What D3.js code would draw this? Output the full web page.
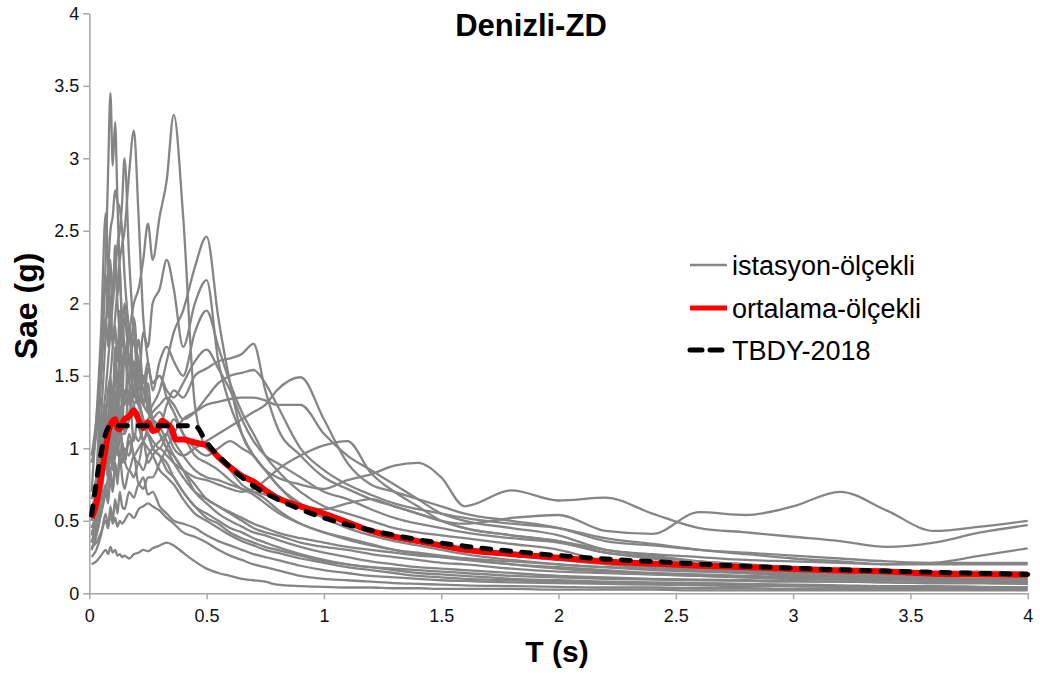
<!DOCTYPE html>
<html><head><meta charset="utf-8">
<script src="https://cdn.jsdelivr.net/npm/d3@7"></script>
<style>
html,body{margin:0;padding:0;background:#fff;}
svg text{font-family:"Liberation Sans",Arial,sans-serif;}
</style></head>
<body><svg id="chart" width="1040" height="675"></svg>
<script>
const xTicks = [0, 0.5, 1, 1.5, 2, 2.5, 3, 3.5, 4];
const yTicks = [0, 0.5, 1, 1.5, 2, 2.5, 3, 3.5, 4];
const seriesNames = ["istasyon-ölçekli", "ortalama-ölçekli", "TBDY-2018"];
const title = "Denizli-ZD";
const xTitle = "T (s)";
const yTitle = "Sae (g)";

// period grid of the scaled station records
const T = [0.01,0.03,0.05,0.07,0.08,0.09,0.10,0.11,0.12,0.13,
           0.14,0.15,0.17,0.19,0.21,0.23,0.25,0.27,0.30,0.33,
           0.36,0.40,0.45,0.50,0.55,0.60,0.65,0.70,0.75,0.80,
           0.90,1.0,1.1,1.2,1.3,1.4,1.5,1.6,1.8,2.0,
           2.2,2.4,2.6,2.8,3.0,3.2,3.4,3.6,3.8,4.0];

const rec01 = [0.55,0.8,1.5,2.3,2.9,3.45,2.95,3.25,2.7,2.2, 1.9,1.7,1.45,1.3,1.15,1.05,1.0,0.95,0.85,0.8, 0.75,0.65,0.55,0.5,0.45,0.4,0.36,0.33,0.3,0.28, 0.24,0.21,0.18,0.16,0.14,0.12,0.11,0.1,0.09,0.08, 0.07,0.065,0.06,0.055,0.05,0.045,0.045,0.04,0.04,0.035];
const rec02 = [0.6,0.7,1.0,1.2,1.4,1.5,1.7,1.9,2.1,2.3, 2.4,2.5,2.9,3.19,2.6,1.9,1.6,1.45,1.5,1.35, 1.25,1.1,0.95,0.9,0.85,0.78,0.72,0.68,0.62,0.56, 0.48,0.42,0.37,0.33,0.3,0.28,0.26,0.24,0.2,0.17, 0.15,0.13,0.12,0.11,0.1,0.095,0.09,0.085,0.08,0.075];
const rec03 = [0.45,0.55,0.75,0.95,1.05,1.1,1.2,1.3,1.35,1.45, 1.55,1.6,1.8,2.0,2.1,2.3,2.55,2.3,2.6,2.85, 3.3,2.6,1.3,1.0,0.95,0.85,0.75,0.7,0.65,0.58, 0.48,0.42,0.38,0.34,0.3,0.27,0.25,0.23,0.2,0.18, 0.16,0.14,0.13,0.12,0.11,0.1,0.095,0.09,0.085,0.08];
const rec04 = [0.4,0.45,0.55,0.7,0.8,0.85,0.9,0.95,1.0,1.05, 1.1,1.1,1.2,1.3,1.35,1.3,1.25,1.3,1.4,1.6, 1.8,1.95,2.25,2.46,1.9,1.45,1.1,0.95,0.85,0.75, 0.6,0.52,0.45,0.4,0.36,0.33,0.3,0.27,0.23,0.2, 0.18,0.16,0.15,0.14,0.13,0.12,0.11,0.1,0.1,0.09];
const rec05 = [0.5,0.7,1.2,1.8,2.2,2.5,2.6,2.78,2.7,2.65, 2.5,2.2,1.8,1.5,1.3,1.2,1.1,1.0,0.95,0.9, 0.8,0.7,0.6,0.55,0.5,0.45,0.42,0.38,0.35,0.32, 0.27,0.23,0.2,0.18,0.16,0.14,0.13,0.12,0.1,0.09, 0.08,0.075,0.07,0.065,0.06,0.055,0.05,0.05,0.045,0.04];
const rec06 = [0.65,0.8,1.1,1.4,1.6,1.8,2.0,2.2,2.4,2.5, 2.7,3.0,2.3,1.8,1.6,1.4,1.3,1.2,1.1,1.0, 0.95,0.85,0.7,0.62,0.55,0.5,0.46,0.42,0.4,0.37, 0.32,0.28,0.25,0.22,0.2,0.18,0.17,0.16,0.14,0.12, 0.11,0.1,0.095,0.09,0.085,0.08,0.075,0.07,0.07,0.065];
const rec07 = [0.7,1.2,1.8,2.62,2.3,2.0,2.1,2.3,2.0,1.8, 1.7,1.9,1.6,1.4,1.3,1.5,1.35,1.2,1.1,1.0, 0.9,0.8,0.7,0.65,0.6,0.55,0.5,0.45,0.42,0.4, 0.35,0.32,0.3,0.27,0.25,0.23,0.21,0.2,0.17,0.15, 0.14,0.13,0.12,0.11,0.1,0.1,0.095,0.09,0.085,0.08];
const rec08 = [0.4,0.5,0.7,0.95,0.8,1.1,0.9,1.25,1.0,1.3, 1.15,1.4,1.2,1.6,1.45,1.8,1.7,2.0,2.1,2.3, 2.1,1.7,2.0,2.16,1.6,1.3,1.1,0.95,0.85,0.75, 0.62,0.55,0.48,0.42,0.38,0.35,0.33,0.3,0.26,0.23, 0.2,0.18,0.17,0.16,0.15,0.14,0.13,0.12,0.12,0.11];
const rec09 = [0.5,0.65,0.9,1.3,1.1,1.5,1.3,1.7,1.45,1.6, 1.9,1.6,1.85,1.5,1.75,1.45,1.6,1.4,1.6,1.7, 1.6,1.5,1.8,1.95,1.7,1.45,1.25,1.1,0.95,0.85, 0.7,0.6,0.55,0.5,0.45,0.42,0.4,0.38,0.34,0.3, 0.22,0.19,0.16,0.14,0.12,0.11,0.1,0.09,0.08,0.07];
const rec10 = [0.35,0.5,0.7,1.1,0.9,1.3,1.05,1.4,1.2,1.55, 1.3,1.7,1.45,1.9,1.5,1.3,1.55,1.45,1.5,1.4, 1.35,1.45,1.6,1.68,1.55,1.4,1.2,1.05,0.95,0.9, 0.8,0.7,0.65,0.58,0.52,0.48,0.45,0.42,0.38,0.35, 0.28,0.25,0.22,0.2,0.18,0.17,0.16,0.15,0.15,0.14];
const rec11 = [0.45,0.55,0.8,1.2,1.0,1.45,1.2,1.6,1.3,1.75, 1.5,1.3,1.65,1.35,1.6,1.3,1.45,1.15,1.15,1.3, 1.4,1.35,1.5,1.55,1.6,1.62,1.65,1.72,1.4,1.15, 0.95,0.8,0.72,0.65,0.6,0.55,0.5,0.45,0.4,0.36, 0.3,0.26,0.22,0.2,0.18,0.16,0.15,0.14,0.13,0.12];
const rec12 = [0.3,0.4,0.55,0.7,0.62,0.8,0.7,0.9,0.8,0.95, 0.9,1.0,0.95,1.1,1.05,1.15,1.2,1.25,1.3,1.35, 1.3,1.2,1.25,1.35,1.45,1.5,1.52,1.54,1.45,1.3, 1.0,0.85,0.75,0.68,0.62,0.58,0.55,0.52,0.48,0.45, 0.38,0.34,0.3,0.27,0.24,0.22,0.2,0.21,0.26,0.31];
const rec13 = [0.3,0.4,0.55,0.75,0.65,0.85,0.7,0.9,0.75,0.95, 0.8,0.72,0.85,0.8,0.9,0.85,0.95,1.0,1.05,1.1, 1.0,0.95,1.0,1.05,1.1,1.15,1.2,1.25,1.3,1.4, 1.49,1.2,0.9,0.75,0.7,0.65,0.6,0.55,0.5,0.45, 0.36,0.33,0.3,0.28,0.26,0.24,0.22,0.21,0.21,0.21];
const rec14 = [0.25,0.3,0.4,0.55,0.45,0.6,0.5,0.65,0.55,0.7, 0.6,0.58,0.7,0.66,0.75,0.72,0.8,0.8,0.9,1.0, 1.1,1.2,1.25,1.3,1.32,1.34,1.35,1.35,1.33,1.3, 1.3,1.1,0.95,0.85,0.75,0.65,0.55,0.5,0.45,0.4, 0.3,0.27,0.25,0.23,0.22,0.21,0.2,0.2,0.2,0.2];
const rec15 = [0.5,0.6,0.8,1.1,0.9,1.2,1.0,1.3,1.05,1.25, 1.0,0.9,1.05,0.95,1.0,1.05,1.1,1.05,1.0,1.1, 1.2,1.1,1.0,0.95,1.0,1.05,1.0,0.95,0.85,0.8, 0.75,0.72,0.78,0.82,0.88,0.9,0.8,0.6,0.71,0.64, 0.66,0.55,0.45,0.42,0.39,0.36,0.32,0.35,0.42,0.47];
const rec16 = [0.4,0.5,0.7,1.0,0.85,1.2,1.0,1.35,1.1,1.5, 1.25,1.1,1.4,1.05,1.25,1.05,1.15,1.2,1.25,1.15, 1.05,0.95,0.85,0.8,0.78,0.75,0.72,0.7,0.68,0.65, 0.6,0.58,0.62,0.65,0.6,0.55,0.5,0.48,0.52,0.54, 0.43,0.41,0.56,0.54,0.6,0.70,0.57,0.43,0.46,0.5];
const rec17 = [0.35,0.45,0.65,0.9,0.8,1.0,0.85,1.1,0.95,1.2, 1.0,0.9,1.1,0.95,0.9,1.05,0.9,0.95,1.0,0.95, 0.9,0.85,0.8,0.78,0.75,0.72,0.7,0.72,0.78,0.85, 0.95,1.02,1.05,0.83,0.7,0.6,0.5,0.45,0.4,0.36, 0.28,0.24,0.2,0.17,0.15,0.13,0.12,0.11,0.1,0.1];
const rec18 = [0.2,0.22,0.26,0.3,0.27,0.32,0.28,0.3,0.26,0.27, 0.25,0.26,0.24,0.27,0.28,0.3,0.29,0.31,0.33,0.35, 0.33,0.28,0.22,0.17,0.14,0.12,0.1,0.09,0.08,0.06, 0.05,0.045,0.04,0.04,0.035,0.035,0.03,0.03,0.03,0.025, 0.025,0.025,0.02,0.02,0.02,0.02,0.02,0.02,0.02,0.02];
const rec19 = [0.32,0.35,0.42,0.5,0.45,0.55,0.48,0.52,0.46,0.5, 0.48,0.5,0.55,0.52,0.58,0.6,0.62,0.6,0.57,0.52, 0.48,0.42,0.39,0.35,0.3,0.26,0.23,0.2,0.18,0.16, 0.12,0.1,0.09,0.08,0.07,0.065,0.06,0.055,0.05,0.045, 0.04,0.04,0.035,0.035,0.03,0.03,0.03,0.03,0.03,0.03];
const rec20 = [0.42,0.5,0.7,0.9,0.8,1.0,0.85,0.95,1.1,0.9, 1.05,0.92,0.85,0.95,0.75,0.8,0.68,0.7,0.6,0.55, 0.5,0.48,0.45,0.4,0.36,0.33,0.3,0.27,0.25,0.23, 0.19,0.16,0.14,0.12,0.11,0.1,0.09,0.085,0.075,0.07, 0.065,0.06,0.055,0.05,0.05,0.045,0.045,0.04,0.04,0.04];
const rec21 = [0.9,1.1,1.5,1.9,1.7,2.05,1.7,1.85,1.6,1.95, 1.5,1.7,1.3,1.55,1.35,1.2,1.1,1.0,0.95,0.85, 0.8,0.7,0.6,0.52,0.48,0.42,0.38,0.35,0.32,0.3, 0.26,0.22,0.2,0.18,0.17,0.16,0.15,0.14,0.12,0.11, 0.1,0.095,0.09,0.085,0.08,0.08,0.075,0.07,0.07,0.065];
const rec22 = [0.95,1.2,1.6,2.2,1.9,2.3,2.0,2.4,2.05,2.25, 1.8,2.0,1.6,1.75,1.4,1.5,1.25,1.2,1.15,1.05, 0.95,0.85,0.75,0.65,0.6,0.56,0.52,0.48,0.45,0.42, 0.38,0.35,0.32,0.3,0.28,0.26,0.25,0.24,0.22,0.2, 0.18,0.17,0.16,0.15,0.14,0.13,0.13,0.12,0.12,0.11];

const records = [rec01,rec02,rec03,rec04,rec05,rec06,rec07,rec08,rec09,rec10,rec11,
                 rec12,rec13,rec14,rec15,rec16,rec17,rec18,rec19,rec20,rec21,rec22];

// mean of scaled records
const meanT = [0.01,0.03,0.05,0.07,0.08,0.09,0.10,0.11,0.12,0.13,0.14,0.15,0.17,0.19,0.21,0.23,0.25,0.27,0.29,0.31,0.33,0.35,0.37,0.40,0.43,0.45,0.50,0.55,0.60,0.65,0.70,0.75,0.80,0.90,1.0,1.1,1.2,1.3,1.4,1.5,1.6,1.8,2.0,2.2,2.4,2.6,2.8,3.0,3.2,3.4,3.6,3.8,4.0];
const meanSae = [0.52,0.62,0.8,1.0,1.1,1.16,1.19,1.2,1.14,1.13,1.17,1.2,1.22,1.26,1.2,1.14,1.18,1.12,1.13,1.19,1.17,1.14,1.06,1.06,1.05,1.04,1.02,0.94,0.87,0.81,0.77,0.71,0.66,0.6,0.55,0.49,0.43,0.39,0.36,0.33,0.3,0.27,0.245,0.22,0.205,0.19,0.18,0.168,0.158,0.15,0.135,0.13,0.13];

// TBDY-2018 design spectrum
const tbdyT = [0.01,0.09,0.45,0.5,0.6,0.7,0.8,0.9,1.0,1.2,1.4,1.6,1.8,2.0,2.5,3.0,3.5,4.0];
const tbdySae = [0.54,1.155,1.155,1.04,0.87,0.74,0.65,0.58,0.52,0.435,0.37,0.325,0.29,0.26,0.21,0.173,0.149,0.13];

const svg = d3.select("#chart");
const x = d3.scaleLinear().domain([0, 4]).range([89.3, 1027.7]);
const y = d3.scaleLinear().domain([0, 4]).range([593.3, 13.3]);
const axisColor = "#a6a6a6";

// axes
const gx = svg.append("g").attr("transform", `translate(0,${y(0)})`)
  .call(d3.axisBottom(x).tickValues(xTicks).tickSize(6).tickSizeOuter(0).tickFormat(d => String(d)));
const gy = svg.append("g").attr("transform", `translate(${x(0)},0)`)
  .call(d3.axisLeft(y).tickValues(yTicks).tickSize(6).tickSizeOuter(0).tickFormat(d => String(d)));
[gx, gy].forEach(g => {
  g.selectAll("path.domain").attr("stroke", axisColor).attr("stroke-width", 1.5);
  g.selectAll(".tick line").attr("stroke", axisColor).attr("stroke-width", 1.5);
  g.selectAll(".tick text").attr("fill", "#111").attr("font-size", 18)
    .style("font-family", '"Liberation Sans", Arial, sans-serif');
});
gx.selectAll(".tick text").attr("dy", "1.1em");
gy.selectAll(".tick text").attr("x", -10).attr("dy", "0.34em");

const line = d3.line().x(d => x(d[0])).y(d => y(d[1])).curve(d3.curveMonotoneX);

const gRec = svg.append("g");
records.forEach(r => {
  gRec.append("path").datum(T.map((t, i) => [t, r[i]]))
    .attr("d", line).attr("fill", "none").attr("stroke", "#858585").attr("stroke-width", 2.3)
    .attr("stroke-linejoin", "round");
});

svg.append("path").datum(meanT.map((t, i) => [t, meanSae[i]]))
  .attr("d", line).attr("fill", "none").attr("stroke", "#ff0000").attr("stroke-width", 6)
  .attr("stroke-linejoin", "round");

svg.append("path").datum(tbdyT.map((t, i) => [t, tbdySae[i]]))
  .attr("d", line).attr("fill", "none").attr("stroke", "#000").attr("stroke-width", 5)
  .attr("stroke-dasharray", "9,11").attr("stroke-linecap", "round");

// titles
svg.append("text").attr("x", 531).attr("y", 36).attr("text-anchor", "middle")
  .attr("font-size", 31).attr("font-weight", "bold").text(title);
svg.append("text").attr("x", 557).attr("y", 662).attr("text-anchor", "middle")
  .attr("font-size", 30).attr("font-weight", "bold").text(xTitle);
svg.append("text").attr("transform", "translate(37,306) rotate(-90)").attr("text-anchor", "middle")
  .attr("font-size", 32).attr("font-weight", "bold").text(yTitle);

// legend
const leg = svg.append("g");
const legY = [265, 308, 350];
const legStyles = [
  {stroke: "#858585", w: 2.3, dash: null, cap: "butt"},
  {stroke: "#ff0000", w: 5, dash: null, cap: "butt"},
  {stroke: "#000", w: 5, dash: "12,8", cap: "round"}
];
seriesNames.forEach((n, i) => {
  const s = legStyles[i];
  const l = leg.append("line").attr("x1", 690).attr("x2", 727).attr("y1", legY[i]).attr("y2", legY[i])
    .attr("stroke", s.stroke).attr("stroke-width", s.w).attr("stroke-linecap", s.cap);
  if (s.dash) l.attr("stroke-dasharray", s.dash);
  leg.append("text").attr("x", 732).attr("y", legY[i] + 10).attr("font-size", 27)
    .attr("fill", "#000").text(n);
});
</script></body></html>
